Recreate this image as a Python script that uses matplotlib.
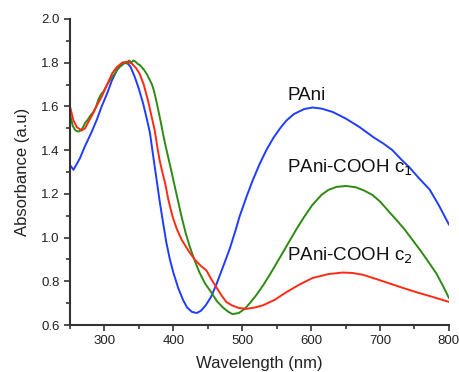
import matplotlib
matplotlib.use("Agg")
import matplotlib.pyplot as plt
from matplotlib.ticker import MultipleLocator

plt.rcParams['font.family'] = ['Liberation Sans', 'DejaVu Sans']

# PAni (blue)
pani_wl = [250, 255, 264, 272, 281, 289, 296, 304, 311, 318, 326, 333, 338, 344, 350,
           356, 361, 366, 370, 375, 380, 385, 390, 395, 400, 407, 414, 420, 427, 434,
           440, 447, 455, 463, 472, 482, 490, 496, 506, 515, 525, 535, 545, 555, 564,
           575, 590, 602, 615, 631, 650, 670, 690, 705, 718, 730, 743, 757, 772, 785, 800]
pani_abs = [1.332, 1.31, 1.36, 1.42, 1.48, 1.54, 1.60, 1.66, 1.72, 1.765, 1.80, 1.80, 1.78, 1.735, 1.68,
            1.615, 1.55, 1.48, 1.39, 1.28, 1.17, 1.07, 0.975, 0.90, 0.84, 0.77, 0.715, 0.68, 0.66, 0.655,
            0.665, 0.69, 0.73, 0.79, 0.865, 0.95, 1.03, 1.095, 1.185, 1.26, 1.335, 1.40, 1.455, 1.50, 1.535,
            1.565, 1.588, 1.595, 1.59, 1.575, 1.545, 1.506, 1.46, 1.43, 1.40, 1.36, 1.32, 1.27, 1.22, 1.15, 1.06]

# PAni-COOH c1 (green)
c1_wl = [250, 254, 258, 262, 266, 269, 272, 276, 280, 284, 288, 291, 295, 299, 303, 307, 311,
         315, 319, 322, 326, 330, 333, 336, 339, 342, 345, 348, 351, 354, 358, 362, 366, 369,
         372, 375, 378, 382, 385, 388, 392, 396, 402, 407, 412, 418, 424, 431, 438, 446, 455,
         463, 472, 480, 486, 495, 504, 511, 520, 530, 540, 554, 566, 579, 590, 602, 615, 625,
         637, 651, 665, 677, 689, 700, 714, 724, 735, 747, 760, 770, 782, 792, 800]
c1_abs = [1.565, 1.51, 1.49, 1.485, 1.49, 1.505, 1.525, 1.54, 1.56, 1.575, 1.60, 1.63, 1.655, 1.67,
          1.695, 1.715, 1.735, 1.75, 1.77, 1.78, 1.79, 1.80, 1.795, 1.81, 1.80, 1.81, 1.805, 1.795,
          1.79, 1.78, 1.765, 1.745, 1.72, 1.70, 1.67, 1.63, 1.585, 1.525, 1.475, 1.43, 1.375, 1.32,
          1.235, 1.165, 1.095, 1.02, 0.957, 0.895, 0.84, 0.79, 0.75, 0.71, 0.68, 0.66, 0.65, 0.655,
          0.675, 0.70, 0.735, 0.78, 0.83, 0.905, 0.97, 1.04, 1.095, 1.15, 1.195, 1.218, 1.232, 1.236,
          1.23, 1.215, 1.195, 1.165, 1.115, 1.08, 1.04, 0.99, 0.935, 0.89, 0.835, 0.775, 0.724]

# PAni-COOH c2 (red)
c2_wl = [250, 255, 260, 267, 272, 276, 283, 290, 296, 304, 311, 318, 326, 334, 340, 346, 351,
         357, 363, 368, 373, 377, 380, 384, 388, 393, 399, 405, 412, 418, 424, 431, 440, 448,
         455, 463, 470, 477, 485, 495, 506, 518, 530, 547, 564, 583, 602, 625, 646, 660, 675,
         695, 714, 733, 753, 777, 800]
c2_abs = [1.60, 1.535, 1.505, 1.49, 1.50, 1.525, 1.565, 1.61, 1.645, 1.70, 1.75, 1.78, 1.80, 1.805,
          1.795, 1.775, 1.75, 1.70, 1.63, 1.56, 1.49, 1.41, 1.355, 1.30, 1.25, 1.17, 1.095, 1.04,
          0.99, 0.96, 0.93, 0.90, 0.87, 0.85, 0.81, 0.77, 0.735, 0.705, 0.69, 0.678, 0.674, 0.68,
          0.69, 0.715, 0.75, 0.785, 0.815, 0.833, 0.84, 0.838, 0.83, 0.81, 0.79, 0.77, 0.75, 0.728, 0.706]

fig = plt.figure(figsize=(4.59, 3.72), dpi=100)
ax = fig.add_axes([0.1525, 0.1263, 0.8255, 0.8227])

ax.plot(pani_wl, pani_abs, color='#1f3cff', lw=1.4)
ax.plot(c1_wl, c1_abs, color='#2e8a12', lw=1.4)
ax.plot(c2_wl, c2_abs, color='#ff2a14', lw=1.4)

ax.set_xlim(250, 800)
ax.set_ylim(0.6, 2.0)
ax.xaxis.set_major_locator(MultipleLocator(100))
ax.xaxis.set_minor_locator(MultipleLocator(50))
ax.yaxis.set_major_locator(MultipleLocator(0.2))
ax.yaxis.set_minor_locator(MultipleLocator(0.1))
ax.yaxis.set_major_formatter(plt.FormatStrFormatter('%.1f'))

for s in ['top', 'right']:
    ax.spines[s].set_visible(False)
for s in ['left', 'bottom']:
    ax.spines[s].set_linewidth(1.5)
    ax.spines[s].set_color('#333333')

ax.tick_params(which='major', direction='out', length=4, width=1.2, labelsize=9.5,
               colors='#333333', labelcolor='#222222')
ax.tick_params(which='minor', direction='out', length=3, width=1.2, colors='#333333')

ax.set_xlabel('Wavelength (nm)', fontsize=12, color='#222222', labelpad=6)
ax.set_ylabel('Absorbance (a.u)', fontsize=12, color='#222222', labelpad=8)

ax.text(565, 1.65, 'PAni', fontsize=13.5, va='center', color='#111111')
ax.text(565, 1.32, 'PAni-COOH c$_1$', fontsize=13.5, va='center', color='#111111')
ax.text(565, 0.915, 'PAni-COOH c$_2$', fontsize=13.5, va='center', color='#111111')

fig.savefig('out.png', dpi=100)
